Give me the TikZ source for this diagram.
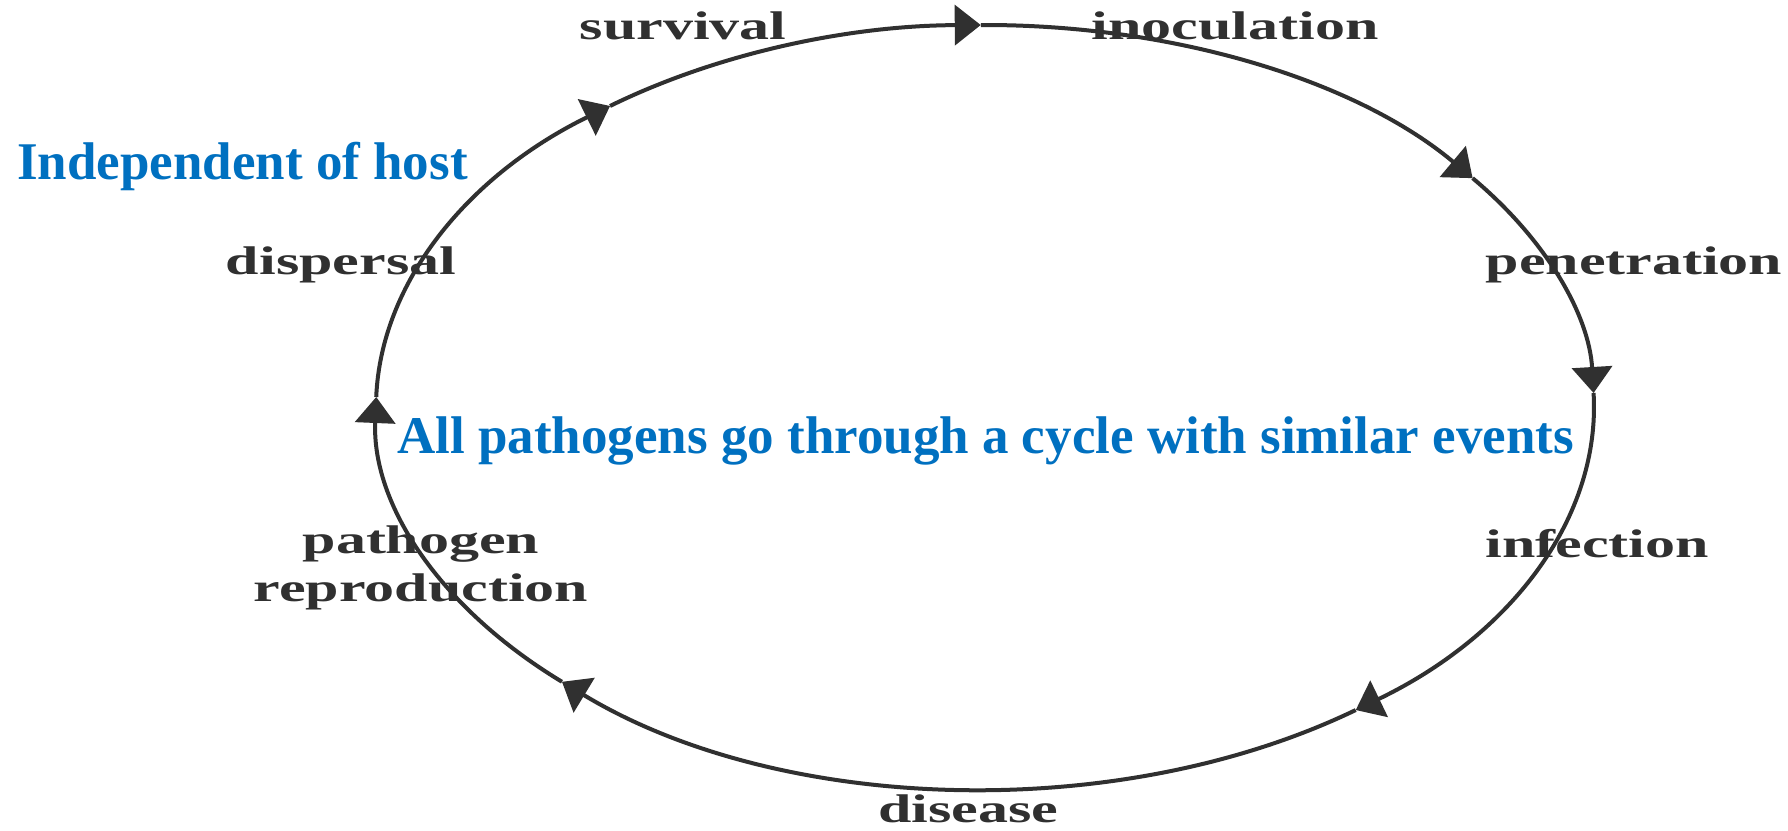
\documentclass[tikz,border=0pt]{standalone}
\usepackage{fontspec}
\setmainfont{Liberation Serif}
\usetikzlibrary{arrows.meta,calc}
\definecolor{bluetxt}{HTML}{0070C0}
\definecolor{inkcol}{HTML}{303030}
\newcommand\widetxt[1]{\scalebox{1.5}[1]{#1}}
\begin{document}
\begin{tikzpicture}[x=1pt,y=1pt,
 lbl/.style={text=inkcol, font=\fontsize{40}{48}\selectfont\bfseries, inner sep=0pt, anchor=base},
 note/.style={text=bluetxt, font=\fontsize{53}{60}\selectfont\bfseries, inner sep=0pt, anchor=base west},
 cyc/.style={draw=inkcol, line width=4pt, -{Triangle[length=26pt,width=40pt]}}]
\useasboundingbox[fill=white] (0,0) rectangle (1788,830);
\coordinate (c) at (985,423);
% cycle arcs (clockwise on the page)
\draw[cyc] ($(c)+(178.5:609 and 382)$) arc[start angle=178.5, end angle=128, x radius=609, y radius=382];
\draw[cyc] ($(c)+(128:609 and 382)$) arc[start angle=128, end angle=90.4, x radius=609, y radius=382];
\draw[cyc] ($(c)+(90.4:609 and 382)$) arc[start angle=90.4, end angle=36.8, x radius=609, y radius=382];
\draw[cyc] ($(c)+(36.8:609 and 382)$) arc[start angle=36.8, end angle=2.1, x radius=609, y radius=382];
\draw[cyc] ($(c)+(2.1:609 and 382)$) arc[start angle=2.1, end angle=-52.5, x radius=609, y radius=382];
\draw[cyc] ($(c)+(-52.5:609 and 382)$) arc[start angle=-52.5, end angle=-134, x radius=609, y radius=382];
\draw[cyc] ($(c)+(-134:609 and 382)$) arc[start angle=-134, end angle=-181.5, x radius=609, y radius=382];
% stage labels
\node[lbl] (surv) at (683,790) {\widetxt{survival}};
\node[lbl] (inoc) at (1235,790) {\widetxt{inoculation}};
\node[lbl] (pene) at (1634,555) {\widetxt{penetration}};
\node[lbl] (infe) at (1597,272) {\widetxt{infection}};
\node[lbl] (dise) at (968,8) {\widetxt{disease}};
\node[lbl] (pathA) at (421,276) {\widetxt{pathogen}};
\node[lbl] (pathB) at (421,228) {\widetxt{reproduction}};
\node[lbl] (disp) at (341,555) {\widetxt{dispersal}};
% blue notes
\node[note] (indep) at (17,650) {Independent of host};
\node[note] (allp) at (397,376) {All pathogens go through a cycle with similar events};
\end{tikzpicture}
\end{document}
